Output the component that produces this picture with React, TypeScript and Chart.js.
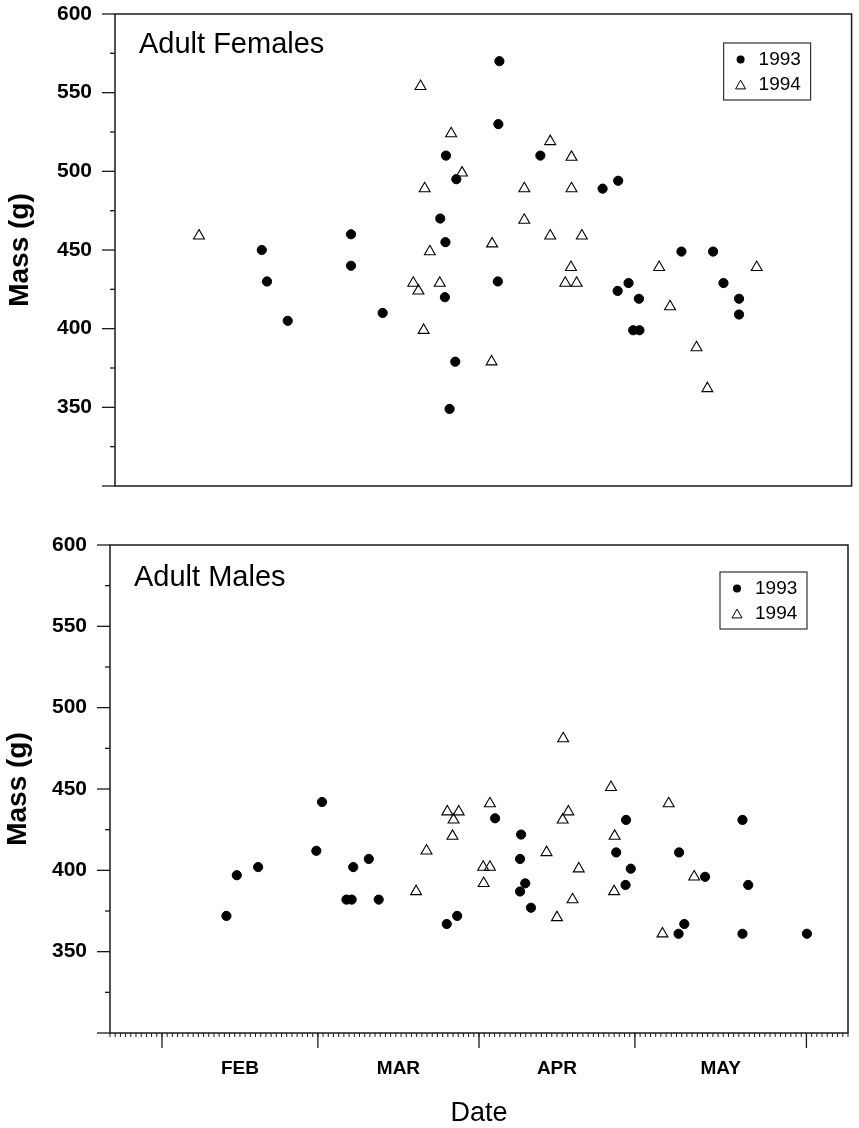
import React, { useEffect, useRef } from "react";
import { Chart, registerables } from "chart.js";

Chart.register(...registerables);

const FONT = "'Liberation Sans', Arial, Helvetica, sans-serif";

// ---- axis definitions ----
const MONTHS = ["FEB", "MAR", "APR", "MAY"];
const MONTH_LABEL_DAYS = [25, 55.5, 86, 117.5];
const MONTH_BOUNDARY_DAYS = [10, 40, 71, 101, 134];
const DAY_MIN = 0;
const DAY_MAX = 142;
const MASS_MIN = 300;
const MASS_MAX = 600;
const MASS_LABELS = [350, 400, 450, 500, 550, 600];
const MASS_MINOR_STEP = 25;
const SERIES = ["1993", "1994"];

// ---- Adult females ----
const FEMALE_1993_DAY = [28.3, 29.3, 33.3, 45.5, 45.5, 51.6, 62.7, 63.8, 63.7, 63.6, 64.5, 65.6, 65.8, 73.8, 73.9, 74.1, 82.0, 94.0, 97.0, 96.9, 99.0, 99.9, 101.1, 101.0, 109.2, 115.3, 117.3, 120.3, 120.3];
const FEMALE_1993_MASS = [450, 430, 405, 460, 440, 410, 470, 510, 455, 420, 349, 379, 495, 430, 530, 570, 510, 489, 494, 424, 429, 399, 399, 419, 449, 449, 429, 419, 409];
const FEMALE_1994_DAY = [16.2, 57.5, 58.5, 58.9, 59.7, 59.5, 60.7, 62.6, 64.8, 66.9, 72.6, 72.7, 78.9, 78.9, 83.9, 83.9, 88.0, 88.0, 87.9, 86.8, 89.0, 90.0, 104.9, 107.0, 112.1, 114.2, 123.7];
const FEMALE_1994_MASS = [459, 429, 424, 554, 489, 399, 449, 429, 524, 499, 379, 454, 489, 469, 519, 459, 509, 489, 439, 429, 429, 459, 439, 414, 388, 362, 439];

// ---- Adult males ----
const MALE_1993_DAY = [22.4, 24.4, 28.5, 39.7, 40.8, 45.5, 46.5, 46.8, 49.8, 51.7, 64.8, 66.8, 74.1, 79.1, 78.9, 79.9, 78.9, 81.0, 97.4, 99.3, 100.2, 99.2, 109.5, 109.4, 110.5, 114.5, 121.7, 122.8, 121.7, 134.1];
const MALE_1993_MASS = [372, 397, 402, 412, 442, 382, 382, 402, 407, 382, 367, 372, 432, 422, 407, 392, 387, 377, 411, 431, 401, 391, 411, 361, 367, 396, 431, 391, 361, 361];
const MALE_1994_DAY = [58.9, 60.9, 64.9, 67.1, 66.1, 65.9, 73.1, 71.8, 73.1, 71.9, 84.0, 86.0, 87.2, 87.1, 88.2, 89.0, 90.2, 96.4, 97.1, 97.0, 106.3, 107.5, 112.4];
const MALE_1994_MASS = [387, 412, 436, 436, 431, 421, 441, 402, 402, 392, 411, 371, 481, 431, 436, 382, 401, 451, 421, 387, 361, 441, 396];

const PAGE_W = 859;

type PanelDef = {
  label: string;
  d93: number[];
  m93: number[];
  d94: number[];
  m94: number[];
  canvasTop: number;
  height: number;
  areaTop: number;
  areaBottom: number;
  left: number;
  right: number;
  showX: boolean;
  yTitlePad: number;
  labelBaseline: number;
  legendTop: number;
};

const PANELS: PanelDef[] = [
  {
    label: "Adult Females",
    d93: FEMALE_1993_DAY, m93: FEMALE_1993_MASS,
    d94: FEMALE_1994_DAY, m94: FEMALE_1994_MASS,
    canvasTop: 0, height: 510, areaTop: 14, areaBottom: 498, left: 115, right: 853,
    showX: false, yTitlePad: 3, labelBaseline: 39, legendTop: 29,
  },
  {
    label: "Adult Males",
    d93: MALE_1993_DAY, m93: MALE_1993_MASS,
    d94: MALE_1994_DAY, m94: MALE_1994_MASS,
    canvasTop: 510, height: 618, areaTop: 35, areaBottom: 523, left: 110, right: 848,
    showX: true, yTitlePad: 1, labelBaseline: 41, legendTop: 27,
  },
];

const toPoints = (xs: number[], ys: number[]) => xs.map((x, i) => ({ x, y: ys[i] }));

function line(ctx: CanvasRenderingContext2D, x1: number, y1: number, x2: number, y2: number) {
  ctx.beginPath();
  ctx.moveTo(x1, y1);
  ctx.lineTo(x2, y2);
  ctx.stroke();
}

function drawTriangle(ctx: CanvasRenderingContext2D, cx: number, cy: number, r: number) {
  ctx.beginPath();
  for (let k = 0; k < 3; k++) {
    const a = (k * 2 * Math.PI) / 3;
    const px = cx + Math.sin(a) * r;
    const py = cy - Math.cos(a) * r;
    if (k === 0) ctx.moveTo(px, py);
    else ctx.lineTo(px, py);
  }
  ctx.closePath();
  ctx.stroke();
}

function Panel({ p }: { p: PanelDef }) {
  const ref = useRef<HTMLCanvasElement | null>(null);

  useEffect(() => {
    if (!ref.current) return;
    const framePlugin = {
      id: "frame" + p.label.replace(/\s/g, ""),
      afterDraw(chart: any) {
        const { ctx, chartArea: a, scales } = chart;
        const x = scales.x;
        const y = scales.y;
        ctx.save();
        ctx.strokeStyle = "#1a1a1a";
        ctx.lineWidth = 1.5;
        ctx.strokeRect(a.left, a.top, a.right - a.left, a.bottom - a.top);
        // y ticks
        ctx.lineWidth = 1.3;
        for (let v = MASS_MIN; v <= MASS_MAX; v += MASS_MINOR_STEP) {
          const py = y.getPixelForValue(v);
          const len = v % 50 === 0 ? 13 : 5;
          line(ctx, a.left - len, py, a.left, py);
        }
        // x ticks
        if (p.showX) {
          ctx.lineWidth = 1;
          for (let d = DAY_MIN; d <= DAY_MAX; d++) {
            const px = x.getPixelForValue(d);
            line(ctx, px, a.bottom, px, a.bottom + 4);
          }
          ctx.lineWidth = 1.3;
          for (const d of MONTH_BOUNDARY_DAYS) {
            const px = x.getPixelForValue(d);
            line(ctx, px, a.bottom, px, a.bottom + 15);
          }
        }
        // panel label
        ctx.fillStyle = "#000";
        ctx.font = `29px ${FONT}`;
        ctx.textAlign = "left";
        ctx.textBaseline = "alphabetic";
        ctx.fillText(p.label, a.left + 24, a.top + p.labelBaseline);
        // legend
        const bw = 87;
        const bh = 57;
        const bx = a.right - 128;
        const by = a.top + p.legendTop;
        ctx.lineWidth = 1.2;
        ctx.strokeStyle = "#333";
        ctx.strokeRect(bx, by, bw, bh);
        ctx.font = `19px ${FONT}`;
        ctx.textBaseline = "middle";
        const r1 = by + 16.5;
        const r2 = by + 42;
        ctx.beginPath();
        ctx.arc(bx + 17, r1, 4, 0, Math.PI * 2);
        ctx.fill();
        ctx.strokeStyle = "#000";
        ctx.lineWidth = 1;
        drawTriangle(ctx, bx + 17, r2 + 1, 5.8);
        ctx.fillText(chart.data.datasets[0].label, bx + 35, r1);
        ctx.fillText(chart.data.datasets[1].label, bx + 35, r2);
        ctx.restore();
      },
    };

    const transparent = "rgba(0,0,0,0)";
    const chart = new Chart(ref.current, {
      type: "scatter",
      data: {
        datasets: [
          {
            label: SERIES[0],
            data: toPoints(p.d93, p.m93),
            pointStyle: "circle",
            pointRadius: 4.6,
            pointBorderWidth: 1,
            backgroundColor: "#000",
            borderColor: "#000",
          },
          {
            label: SERIES[1],
            data: toPoints(p.d94, p.m94),
            pointStyle: "triangle",
            pointRadius: 6.3,
            pointBorderWidth: 1.1,
            backgroundColor: transparent,
            borderColor: "#000",
          },
        ],
      },
      options: {
        responsive: false,
        maintainAspectRatio: false,
        animation: false,
        events: [],
        layout: {
          padding: {
            top: p.areaTop,
            right: PAGE_W - p.right,
            bottom: p.showX ? 0 : p.height - p.areaBottom,
            left: 0,
          },
        },
        plugins: {
          legend: { display: false },
          tooltip: { enabled: false },
        },
        scales: {
          x: {
            type: "linear",
            display: p.showX,
            min: DAY_MIN,
            max: DAY_MAX,
            afterBuildTicks: (s: any) => {
              s.ticks = MONTH_LABEL_DAYS.map((v) => ({ value: v }));
            },
            afterFit: (s: any) => {
              s.height = p.height - p.areaBottom;
            },
            grid: {
              display: true,
              drawOnChartArea: false,
              drawTicks: true,
              tickLength: 24,
              tickColor: transparent,
              color: transparent,
            },
            border: { display: false },
            ticks: {
              padding: 0,
              autoSkip: false,
              maxRotation: 0,
              minRotation: 0,
              color: "#000",
              font: { family: FONT, size: 19, weight: "bold" },
              callback: (_v: any, i: number) => MONTHS[i],
            },
            title: {
              display: true,
              text: "Date",
              color: "#000",
              font: { family: FONT, size: 27, lineHeight: 1.1 },
              padding: { top: 0, bottom: 0 },
            },
          },
          y: {
            type: "linear",
            min: MASS_MIN,
            max: MASS_MAX,
            afterBuildTicks: (s: any) => {
              s.ticks = MASS_LABELS.map((v) => ({ value: v }));
            },
            afterFit: (s: any) => {
              s.width = p.left;
            },
            grid: {
              display: true,
              drawOnChartArea: false,
              drawTicks: true,
              tickLength: 23,
              tickColor: transparent,
              color: transparent,
            },
            border: { display: false },
            ticks: {
              padding: 0,
              autoSkip: false,
              color: "#000",
              font: { family: FONT, size: 21, weight: "bold" },
              callback: (v: any) => String(v),
            },
            title: {
              display: true,
              text: "Mass (g)",
              color: "#000",
              font: { family: FONT, size: 28, weight: "bold" },
              padding: { top: p.yTitlePad, bottom: 0 },
            },
          },
        },
      },
      plugins: [framePlugin],
    } as any);
    return () => chart.destroy();
  }, [p]);

  return (
    <canvas
      ref={ref}
      width={PAGE_W}
      height={p.height}
      style={{ position: "absolute", left: 0, top: p.canvasTop, width: PAGE_W, height: p.height }}
    />
  );
}

export default function App() {
  return (
    <div
      style={{
        position: "absolute",
        left: 0,
        top: 0,
        width: PAGE_W,
        height: 1128,
        overflow: "hidden",
        background: "#fff",
      }}
    >
      {PANELS.map((p) => (
        <Panel key={p.label} p={p} />
      ))}
    </div>
  );
}
